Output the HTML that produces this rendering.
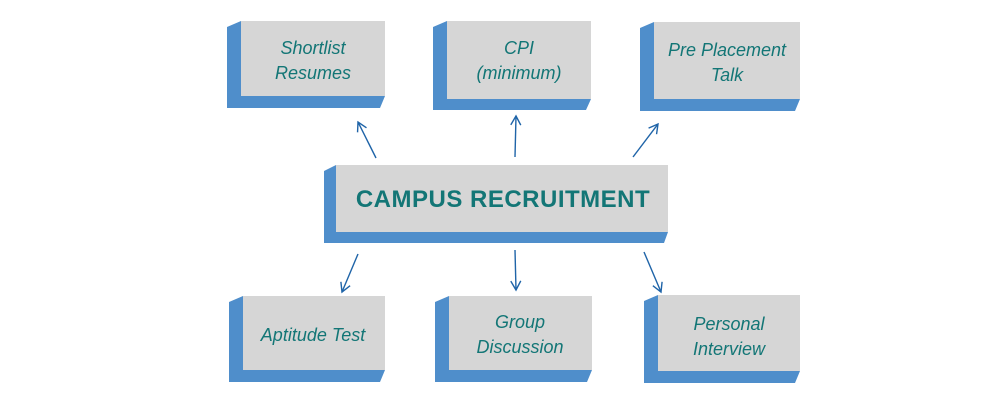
<html><body style="margin:0;background:#fff">
<svg width="1000" height="400" xmlns="http://www.w3.org/2000/svg" font-family="Liberation Sans, sans-serif">
<defs>
<marker id="a" markerWidth="12" markerHeight="12" refX="10" refY="6" orient="auto" markerUnits="userSpaceOnUse">
<path d="M1,1 L10,6 L1,11" fill="none" stroke="#1f64a8" stroke-width="1.4"/></marker>
</defs>
<g fill="#4f8ecb">
<polygon points="227,27 241,21 241,96 385,96 380,108 227,108"/>
<polygon points="433,27 447,21 447,99 591,99 586,110 433,110"/>
<polygon points="640,28 654,22 654,99 800,99 795,111 640,111"/>
<polygon points="324,171 336,165 336,232 668,232 664,243 324,243"/>
<polygon points="229,302 243,296 243,370 385,370 380,382 229,382"/>
<polygon points="435,302 449,296 449,370 592,370 587,382 435,382"/>
<polygon points="644,301 658,295 658,371 800,371 795,383 644,383"/>
</g>
<g fill="#d6d6d6">
<rect x="241" y="21" width="144" height="75"/>
<rect x="447" y="21" width="144" height="78"/>
<rect x="654" y="22" width="146" height="77"/>
<rect x="336" y="165" width="332" height="67"/>
<rect x="243" y="296" width="142" height="74"/>
<rect x="449" y="296" width="143" height="74"/>
<rect x="658" y="295" width="142" height="76"/>
</g>
<g fill="#137676" font-style="italic" font-size="18" text-anchor="middle">
<text x="313" y="54">Shortlist</text><text x="313" y="79">Resumes</text>
<text x="519" y="54">CPI</text><text x="519" y="79">(minimum)</text>
<text x="727" y="56">Pre Placement</text><text x="727" y="81">Talk</text>
<text x="313" y="341">Aptitude Test</text>
<text x="520" y="328">Group</text><text x="520" y="353">Discussion</text>
<text x="729" y="330">Personal</text><text x="729" y="355">Interview</text>
</g>
<text x="503" y="207" fill="#137676" font-weight="bold" font-size="24" text-anchor="middle" letter-spacing="0.5">CAMPUS RECRUITMENT</text>
<g stroke="#1f64a8" stroke-width="1.4" fill="none" marker-end="url(#a)">
<line x1="376" y1="158" x2="358" y2="122"/>
<line x1="515" y1="157" x2="516" y2="116"/>
<line x1="633" y1="157" x2="658" y2="124"/>
<line x1="358" y1="254" x2="342" y2="292"/>
<line x1="515" y1="250" x2="516" y2="290"/>
<line x1="644" y1="252" x2="661" y2="292"/>
</g>
</svg>
</body></html>
